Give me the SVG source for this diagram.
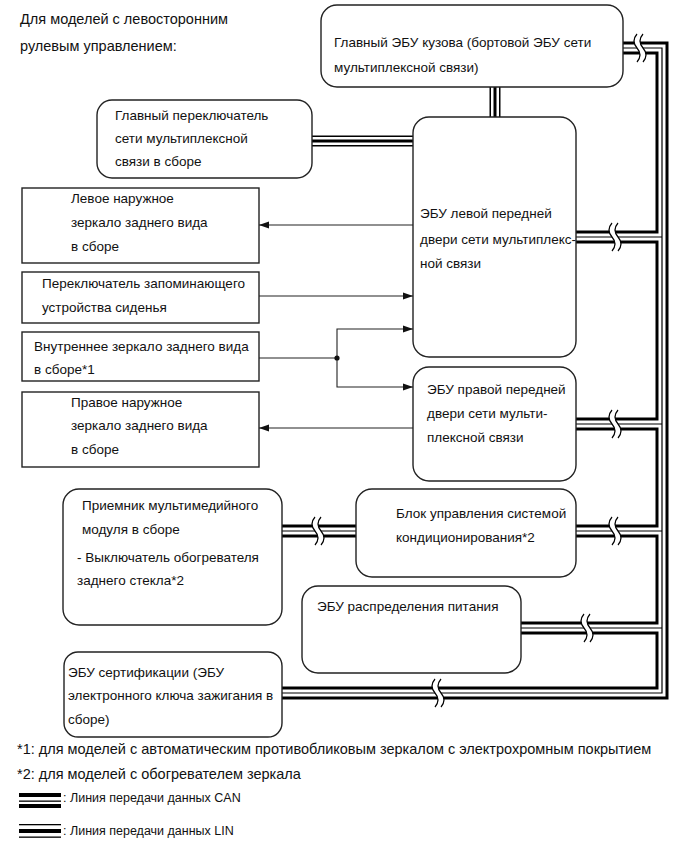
<svg xmlns="http://www.w3.org/2000/svg" width="689" height="854" viewBox="0 0 689 854">
<style>
text{font-family:"Liberation Sans",Arial,sans-serif;font-size:13.5px;fill:#111}
.t14{font-size:14.5px}
.leg{font-size:14.5px}
.leg2{font-size:12.5px}
.box{fill:#fff;stroke:#222;stroke-width:1.4}
.arr{fill:none;stroke:#222;stroke-width:1.1}
.canA{fill:none;stroke:#000;stroke-width:13;stroke-linejoin:miter}
.canB{fill:none;stroke:#fff;stroke-width:7;stroke-linejoin:miter}
.canC{fill:none;stroke:#000;stroke-width:1.2;stroke-linejoin:miter}
.linA{fill:none;stroke:#000;stroke-width:11}
.linB{fill:none;stroke:#fff;stroke-width:8}
.linC{fill:none;stroke:#000;stroke-width:3}
</style>
<defs>
<marker id="ah" markerUnits="userSpaceOnUse" markerWidth="11" markerHeight="8" refX="10" refY="4" orient="auto">
<path d="M0,0.5 L10,4 L0,7.5 z" fill="#111"/>
</marker>
<g id="brk">
<path d="M-3,-14 q-6,7 0,14 q6,7 0,14 L3,14 q6,-7 0,-14 q-6,-7 0,-14 Z" fill="#fff"/>
<path d="M-3,-14 q-6,7 0,14 q6,7 0,14 M3,-14 q-6,7 0,14 q6,7 0,14" fill="none" stroke="#000" stroke-width="1.2"/>
</g>
</defs>
<rect width="689" height="854" fill="#fff"/>
<text class="t14" x="20" y="24">Для моделей с левосторонним</text>
<text class="t14" x="20" y="51">рулевым управлением:</text>
<g id="connectors">
<g id="can-bus">
<path class="canA" d="M623,48 H662 V693 H282 M575,237 H662 M575,424 H662 M576,531 H662 M521,628 H662 M282,531 H356"/>
<path class="canB" d="M623,48 H662 V693 H282 M575,237 H662 M575,424 H662 M576,531 H662 M521,628 H662 M282,531 H356"/>
<path class="canC" d="M623,48 H662 V693 H282 M575,237 H662 M575,424 H662 M576,531 H662 M521,628 H662 M282,531 H356"/>
<use href="#brk" x="640" y="48"/>
<use href="#brk" x="615" y="237"/>
<use href="#brk" x="615" y="424"/>
<use href="#brk" x="615" y="531"/>
<use href="#brk" x="318" y="531"/>
<use href="#brk" x="587" y="628"/>
<use href="#brk" x="438" y="693"/>
</g>
<g id="lin-bus">
<path class="linA" d="M495,87 V117 M312,141 H413"/>
<path class="linB" d="M495,87 V117 M312,141 H413"/>
<path class="linC" d="M495,87 V117 M312,141 H413"/>
</g>
<g id="signals">
<path class="arr" d="M413,225 H259" marker-end="url(#ah)"/>
<path class="arr" d="M259,296 H413" marker-end="url(#ah)"/>
<path class="arr" d="M259,358 H337"/>
<path class="arr" d="M337,358 V329 H413" marker-end="url(#ah)"/>
<path class="arr" d="M337,358 V387 H413" marker-end="url(#ah)"/>
<path class="arr" d="M413,428 H259" marker-end="url(#ah)"/>
<circle cx="337" cy="358" r="2.6" fill="#111"/>
</g>
</g>
<g id="ecu-body">
<rect class="box" x="321" y="5" width="302" height="82" rx="16"/>
<text x="334" y="47">Главный ЭБУ кузова (бортовой ЭБУ сети</text>
<text x="334" y="72">мультиплексной связи)</text>
</g>
<g id="main-switch">
<rect class="box" x="97" y="100" width="215" height="78" rx="15"/>
<text x="115" y="120">Главный переключатель</text>
<text x="115" y="143">сети мультиплексной</text>
<text x="115" y="166">связи в сборе</text>
</g>
<g id="ecu-left-door">
<rect class="box" x="413" y="117" width="163" height="240" rx="16"/>
<text x="420" y="218">ЭБУ левой передней</text>
<text x="420" y="244">двери сети мультиплекс-</text>
<text x="420" y="268">ной связи</text>
</g>
<g id="left-mirror">
<rect class="box" x="22" y="188" width="237" height="75"/>
<text x="71" y="203">Левое наружное</text>
<text x="71" y="227">зеркало заднего вида</text>
<text x="71" y="251">в сборе</text>
</g>
<g id="seat-memory">
<rect class="box" x="22" y="272" width="237" height="51"/>
<text x="42" y="288">Переключатель запоминающего</text>
<text x="42" y="312">устройства сиденья</text>
</g>
<g id="inner-mirror">
<rect class="box" x="22" y="332" width="237" height="49"/>
<text x="34" y="351">Внутреннее зеркало заднего вида</text>
<text x="34" y="374">в сборе*1</text>
</g>
<g id="right-mirror">
<rect class="box" x="22" y="392" width="237" height="75"/>
<text x="71" y="407">Правое наружное</text>
<text x="71" y="430">зеркало заднего вида</text>
<text x="71" y="454">в сборе</text>
</g>
<g id="ecu-right-door">
<rect class="box" x="413" y="367" width="163" height="114" rx="16"/>
<text x="427" y="394">ЭБУ правой передней</text>
<text x="427" y="418">двери сети мульти-</text>
<text x="427" y="442">плексной связи</text>
</g>
<g id="multimedia">
<rect class="box" x="63" y="489" width="219" height="136" rx="16"/>
<text x="82" y="510">Приемник мультимедийного</text>
<text x="82" y="534">модуля в сборе</text>
<text x="77" y="562">- Выключатель обогревателя</text>
<text x="77" y="585">заднего стекла*2</text>
</g>
<g id="ac-control">
<rect class="box" x="356" y="489" width="220" height="88" rx="16"/>
<text x="396" y="518">Блок управления системой</text>
<text x="396" y="542">кондиционирования*2</text>
</g>
<g id="power-dist">
<rect class="box" x="302" y="586" width="219" height="87" rx="16"/>
<text x="317" y="611">ЭБУ распределения питания</text>
</g>
<g id="certification">
<rect class="box" x="64" y="652" width="218" height="85" rx="14"/>
<text x="68" y="677">ЭБУ сертификации (ЭБУ</text>
<text x="68" y="700">электронного ключа зажигания в</text>
<text x="68" y="724">сборе)</text>
</g>
<g id="legend">
<text class="leg" x="17" y="754">*1: для моделей с автоматическим противобликовым зеркалом с электрохромным покрытием</text>
<text class="leg" x="17" y="779">*2: для моделей с обогревателем зеркала</text>
<rect x="19" y="793" width="42" height="4" fill="#000"/>
<rect x="19" y="800.5" width="42" height="1.3" fill="#000"/>
<rect x="19" y="804" width="42" height="4" fill="#000"/>
<text class="leg2" x="63" y="802">: Линия передачи данных CAN</text>
<rect x="19" y="824" width="42" height="1.3" fill="#000"/>
<rect x="19" y="829" width="42" height="4" fill="#000"/>
<rect x="19" y="836.5" width="42" height="1.3" fill="#000"/>
<text class="leg2" x="63" y="835">: Линия передачи данных LIN</text>
</g>
</svg>
